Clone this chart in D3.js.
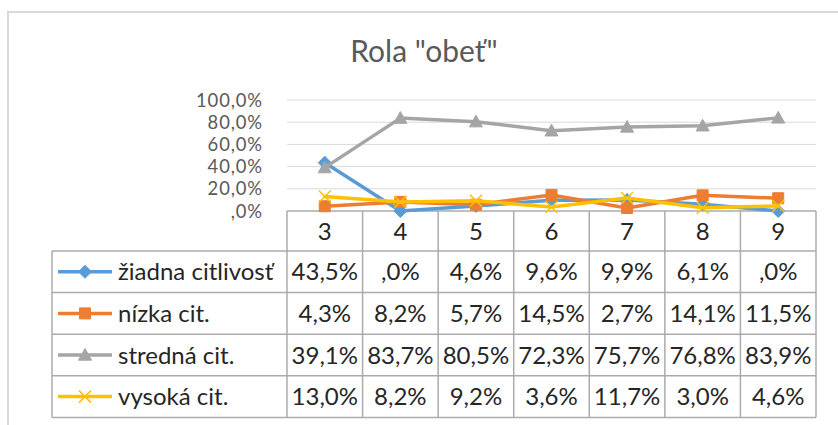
<!DOCTYPE html>
<html>
<head>
<meta charset="utf-8">
<script src="https://cdn.jsdelivr.net/npm/d3@7"></script>
<style>
  html, body { margin: 0; padding: 0; background: #fff; }
  svg { display: block; font-family: Lato, "Open Sans", sans-serif; }
</style>
</head>
<body>
<svg id="chart" width="838" height="425"></svg>
<script>
// data
const categories = ["3", "4", "5", "6", "7", "8", "9"];
const seriesNames = ["žiadna citlivosť", "nízka cit.", "stredná cit.", "vysoká cit."];
const ziadna = [43.5, 0.0, 4.6, 9.6, 9.9, 6.1, 0.0];
const nizka = [4.3, 8.2, 5.7, 14.5, 2.7, 14.1, 11.5];
const stredna = [39.1, 83.7, 80.5, 72.3, 75.7, 76.8, 83.9];
const vysoka = [13.0, 8.2, 9.2, 3.6, 11.7, 3.0, 4.6];
const yTicks = [0, 20, 40, 60, 80, 100];

const seriesValues = [ziadna, nizka, stredna, vysoka];
const colors = ["#5B9BD5", "#ED7D31", "#A5A5A5", "#FFC000"];
const markers = ["diamond", "square", "triangle", "x"];

const svg = d3.select("#chart");

// excel style ".0%" -> ",0%" for zero
function fmt(v) {
    let s = v.toFixed(1).replace(".", ",");
    if (s.startsWith("0,")) s = s.slice(1);
    return s + "%";
}

// chart border
svg.append("path")
    .attr("d", "M8,425 V12 H838")
    .attr("fill", "none")
    .attr("stroke", "#D9D9D9")
    .attr("stroke-width", 2);

// title
svg.append("text")
    .attr("x", 424)
    .attr("y", 62)
    .attr("text-anchor", "middle")
    .attr("font-size", 30)
    .attr("fill", "#595959")
    .text('Rola "obeť"');

const x = d3.scaleBand().domain(categories).range([287, 816]);
const y = d3.scaleLinear().domain([0, 100]).range([211, 100]);

// gridlines
svg.append("g")
    .selectAll("line")
    .data(yTicks.filter(t => t > 0))
    .join("line")
    .attr("x1", 287).attr("x2", 816)
    .attr("y1", d => y(d)).attr("y2", d => y(d))
    .attr("stroke", "#D9D9D9")
    .attr("stroke-width", 1);

// y axis labels
svg.append("g")
    .selectAll("text")
    .data(yTicks)
    .join("text")
    .attr("x", 263)
    .attr("y", d => y(d) + 6.5)
    .attr("text-anchor", "end")
    .attr("font-size", 18.4)
    .attr("letter-spacing", 0.9)
    .attr("fill", "#595959")
    .text(d => fmt(d));

// data table
const tableColor = "#ABABAB";
const headerTop = y(0), headerBottom = 251;
const rowH = 41.6;
const tableLeft = 52;
const tableBottom = headerBottom + rowH * 4;
const tbl = svg.append("g").attr("stroke", tableColor).attr("stroke-width", 1.5);

// horizontal lines
tbl.append("line").attr("x1", 287).attr("x2", 816).attr("y1", headerTop).attr("y2", headerTop);
tbl.selectAll("line.h")
    .data(d3.range(5))
    .join("line")
    .attr("class", "h")
    .attr("x1", tableLeft).attr("x2", 816)
    .attr("y1", i => headerBottom + i * rowH)
    .attr("y2", i => headerBottom + i * rowH);
// vertical lines
const colEdges = categories.map(c => x(c)).concat([x.range()[1]]);
tbl.selectAll("line.v")
    .data(colEdges)
    .join("line")
    .attr("class", "v")
    .attr("x1", d => d).attr("x2", d => d)
    .attr("y1", headerTop).attr("y2", tableBottom);
tbl.append("line")
    .attr("x1", tableLeft).attr("x2", tableLeft)
    .attr("y1", headerBottom).attr("y2", tableBottom);

const cellFont = 24;
const textColor = "#262626";

// header
svg.append("g")
    .selectAll("text")
    .data(categories)
    .join("text")
    .attr("x", d => x(d) + x.bandwidth() / 2)
    .attr("y", (headerTop + headerBottom) / 2 + 8.5)
    .attr("text-anchor", "middle")
    .attr("font-size", cellFont)
    .attr("fill", textColor)
    .text(d => d);

function markerPath(type, cx, cy) {
    if (type === "diamond") {
        const r = 6.5;
        return `M${cx},${cy - r}L${cx + r},${cy}L${cx},${cy + r}L${cx - r},${cy}Z`;
    }
    if (type === "square") {
        const r = 5.5;
        return `M${cx - r},${cy - r}H${cx + r}V${cy + r}H${cx - r}Z`;
    }
    if (type === "triangle") {
        const r = 6.5;
        return `M${cx},${cy - r}L${cx + r},${cy + r * 0.8}L${cx - r},${cy + r * 0.8}Z`;
    }
    const r = 6;
    return `M${cx - r},${cy - r}L${cx + r},${cy + r}M${cx + r},${cy - r}L${cx - r},${cy + r}`;
}

function drawMarker(g, type, color, cx, cy) {
    const p = g.append("path").attr("d", markerPath(type, cx, cy));
    if (type === "x") {
        p.attr("fill", "none").attr("stroke", color).attr("stroke-width", 1.5);
    } else {
        p.attr("fill", color).attr("stroke", color).attr("stroke-width", 1);
    }
}

// rows: legend key + values
seriesNames.forEach((name, si) => {
    const cy = headerBottom + rowH * si + rowH / 2;
    const g = svg.append("g");
    g.append("line")
        .attr("x1", 58).attr("x2", 112)
        .attr("y1", cy).attr("y2", cy)
        .attr("stroke", colors[si])
        .attr("stroke-width", 3.5);
    drawMarker(g, markers[si], colors[si], 85, cy);
    g.append("text")
        .attr("x", 118)
        .attr("y", cy + 8.5)
        .attr("font-size", cellFont)
        .attr("fill", textColor)
        .text(name);
    g.selectAll("text.val")
        .data(seriesValues[si])
        .join("text")
        .attr("class", "val")
        .attr("x", (d, i) => x(categories[i]) + x.bandwidth() / 2)
        .attr("y", cy + 8.5)
        .attr("text-anchor", "middle")
        .attr("font-size", cellFont)
        .attr("fill", textColor)
        .text(d => fmt(d));
});

// lines
const line = d3.line()
    .x((d, i) => x(categories[i]) + x.bandwidth() / 2)
    .y(d => y(d));

seriesValues.forEach((vals, si) => {
    const g = svg.append("g");
    g.append("path")
        .datum(vals)
        .attr("d", line)
        .attr("fill", "none")
        .attr("stroke", colors[si])
        .attr("stroke-width", 3.5)
        .attr("stroke-linejoin", "round")
        .attr("stroke-linecap", "round");
    vals.forEach((v, i) => {
        drawMarker(g, markers[si], colors[si], x(categories[i]) + x.bandwidth() / 2, y(v));
    });
});
</script>
</body>
</html>
